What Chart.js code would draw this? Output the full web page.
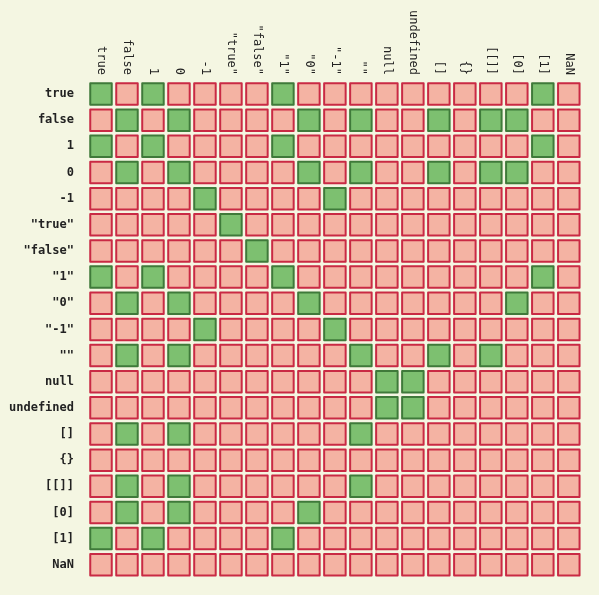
<!DOCTYPE html>
<html>
<head>
<meta charset="utf-8">
<script src="https://cdn.jsdelivr.net/npm/chart.js@4"></script>
<style>
  html, body { margin: 0; padding: 0; background: #f4f6e2; }
  #wrap { width: 599px; height: 595px; }
</style>
</head>
<body>
<div id="wrap"><canvas id="c"></canvas></div>
<script>
/* ── DATA ─────────────────────────────────────────────── */
const labels = ['true', 'false', '1', '0', '-1', '"true"', '"false"', '"1"', '"0"', '"-1"',
  '""', 'null', 'undefined', '[]', '{}', '[[]]', '[0]', '[1]', 'NaN'];

// for each row, the columns that compare equal (==)
const equalCols = [
  ['true', '1', '"1"', '[1]'],
  ['false', '0', '"0"', '""', '[]', '[[]]', '[0]'],
  ['true', '1', '"1"', '[1]'],
  ['false', '0', '"0"', '""', '[]', '[[]]', '[0]'],
  ['-1', '"-1"'],
  ['"true"'],
  ['"false"'],
  ['true', '1', '"1"', '[1]'],
  ['false', '0', '"0"', '[0]'],
  ['-1', '"-1"'],
  ['false', '0', '""', '[]', '[[]]'],
  ['null', 'undefined'],
  ['null', 'undefined'],
  ['false', '0', '""'],
  [],
  ['false', '0', '""'],
  ['false', '0', '"0"'],
  ['true', '1', '"1"'],
  []
];

/* ── BUILD POINTS ─────────────────────────────────────── */
const eqPts = [], neqPts = [];
labels.forEach((row, i) => {
  labels.forEach(col => {
    (equalCols[i].includes(col) ? eqPts : neqPts).push({ x: col, y: row });
  });
});

const cell = { pointStyle: 'rect', pointRadius: 15.2, pointHoverRadius: 15.2, borderWidth: 2 };

// rounded joins give the cells their softly rounded corners
const roundJoins = {
  id: 'roundJoins',
  beforeDatasetsDraw(chart) { chart.ctx.lineJoin = 'round'; }
};

// top labels, rotated clockwise and bottom-aligned to the grid
const topLabels = {
  id: 'topLabels',
  afterDraw(chart) {
    const { ctx, chartArea, scales } = chart;
    ctx.save();
    ctx.font = '12px "DejaVu Sans Mono"';
    ctx.fillStyle = '#222';
    ctx.textAlign = 'right';
    ctx.textBaseline = 'middle';
    labels.forEach((l, i) => {
      const x = scales.x.getPixelForValue(i);
      ctx.save();
      ctx.translate(x, chartArea.top - 6);
      ctx.rotate(Math.PI / 2);
      ctx.fillText(l, 0, 0);
      ctx.restore();
    });
    ctx.restore();
  }
};

new Chart(document.getElementById('c'), {
  type: 'scatter',
  data: {
    datasets: [
      { data: neqPts, backgroundColor: '#f4b3a3', borderColor: '#c92a44', ...cell },
      { data: eqPts, backgroundColor: '#7dc070', borderColor: '#3f7a3a', ...cell }
    ]
  },
  options: {
    responsive: true,
    maintainAspectRatio: false,
    animation: false,
    layout: { padding: { top: 81, left: 4, right: 10, bottom: 14 } },
    plugins: { legend: { display: false }, tooltip: { enabled: false } },
    scales: {
      x: {
        type: 'category', labels, offset: true, display: false,
        grid: { display: false }
      },
      y: {
        type: 'category', labels, offset: true,
        grid: { display: false }, border: { display: false },
        afterFit: s => { s.width = 84; },
        ticks: { color: '#222', padding: 6, font: { family: 'DejaVu Sans Mono', size: 12, weight: 'bold' } }
      }
    }
  },
  plugins: [roundJoins, topLabels]
});
</script>
</body>
</html>
